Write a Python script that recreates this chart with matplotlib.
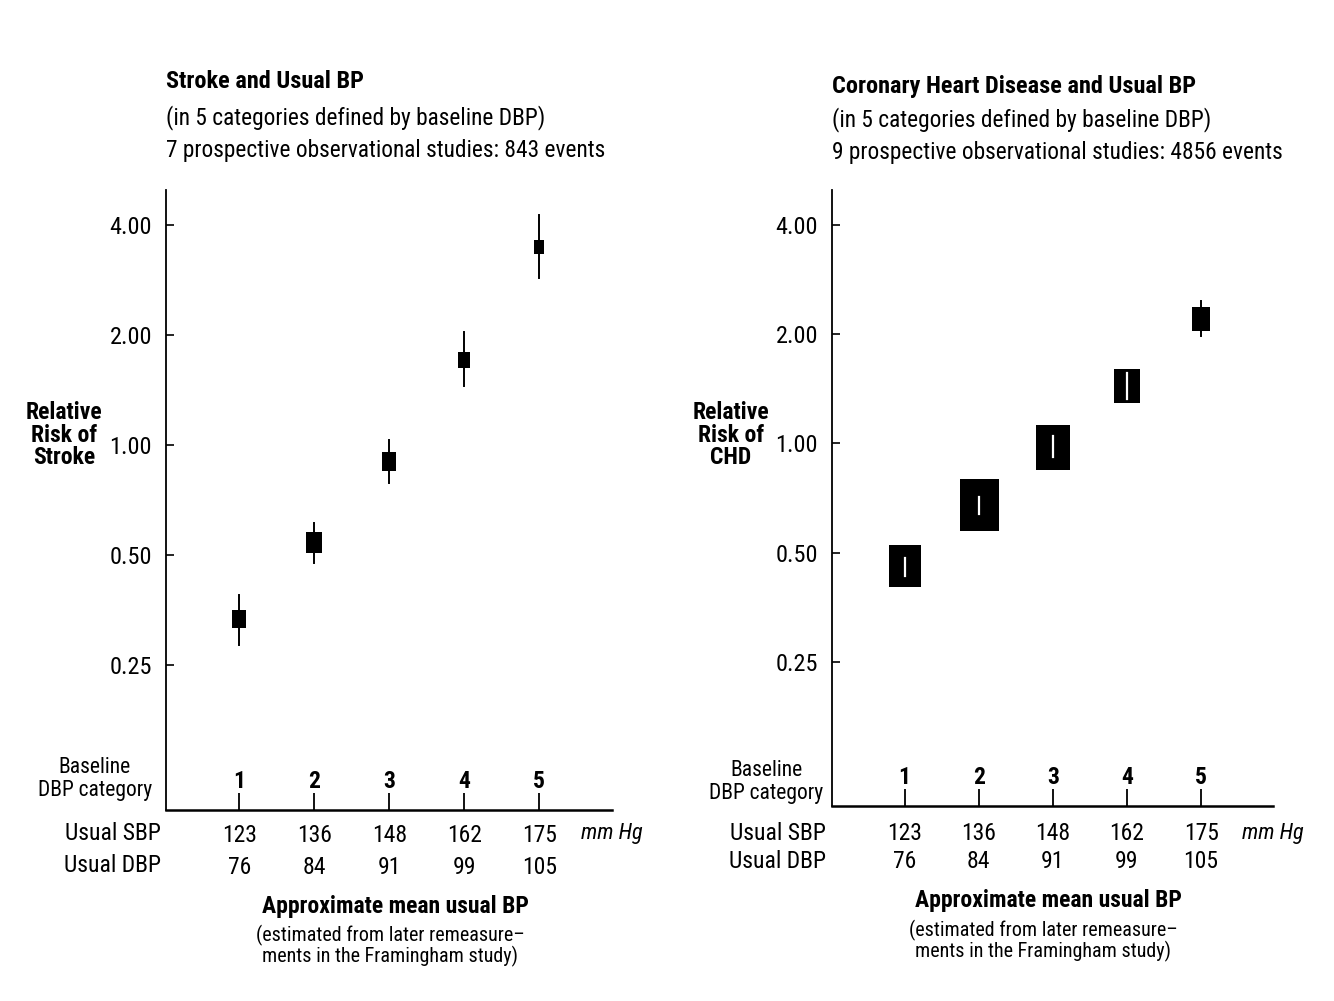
import matplotlib
matplotlib.use("Agg")
import matplotlib.pyplot as plt
from matplotlib import font_manager

# pick a narrow sans if there is one, the scan is set in condensed Helvetica
installed = {f.name for f in font_manager.fontManager.ttflist}
family = "DejaVu Sans"
for name in ["Liberation Sans Narrow", "Roboto Condensed", "DejaVu Sans Condensed", "Liberation Sans"]:
    if name in installed:
        family = name
        break
plt.rcParams["font.family"] = [family, "DejaVu Sans"]

categories = [1, 2, 3, 4, 5]
usual_sbp = [123, 136, 148, 162, 175]
usual_dbp = [76, 84, 91, 99, 105]

stroke_rr = [0.333, 0.541, 0.906, 1.71, 3.50]
stroke_lo = [0.283, 0.475, 0.788, 1.45, 2.87]
stroke_hi = [0.389, 0.612, 1.034, 2.04, 4.27]
stroke_box = [18, 21, 19, 15.5, 14]  # box height, px (weight of each category)

chd_rr = [0.459, 0.677, 0.980, 1.442, 2.20]
chd_lo = [0.431, 0.640, 0.920, 1.324, 1.98]
chd_hi = [0.483, 0.713, 1.048, 1.567, 2.47]
chd_box = [42, 52, 45, 33.5, 24]

yticks = [0.25, 0.5, 1.0, 2.0, 4.0]
ytick_labels = ["0.25", "0.50", "1.00", "2.00", "4.00"]

W, H = 1334, 1001
fig = plt.figure(figsize=(W / 100, H / 100), dpi=100)


def fx(x):
    return x / W


def fy(y):
    return 1 - y / H


box_marker = [(-0.75, -1), (0.75, -1), (0.75, 1), (-0.75, 1), (-0.75, -1)]


def panel(rect, rr, lo, hi, box, title, subtitle, study_line, ylab, ylab_x, txt):
    ax = fig.add_axes(rect)
    ax.set_yscale("log")
    ax.set_ylim(0.1, 5)
    ax.set_xlim(0.02, 5.97)
    ax.set_yticks(yticks)
    ax.set_yticklabels(ytick_labels)
    ax.minorticks_off()
    ax.set_xticks(categories)
    ax.set_xticklabels([])
    ax.tick_params(axis="y", direction="in", length=6, width=1.2, pad=10, labelsize=17.5)
    ax.tick_params(axis="x", direction="in", length=12, width=1.3)
    ax.spines["right"].set_visible(False)
    ax.spines["top"].set_visible(False)
    ax.spines["left"].set_linewidth(1.3)
    ax.spines["bottom"].set_linewidth(1.8)

    for i, c in enumerate(categories):
        half = box[i] / 2
        _, yc = ax.transData.transform((c, rr[i]))
        _, ylo = ax.transData.transform((c, lo[i]))
        _, yhi = ax.transData.transform((c, hi[i]))
        inside = (yc - ylo) < half - 1 and (yhi - yc) < half - 1
        if not inside:
            ax.plot([c, c], [lo[i], hi[i]], color="black", lw=1.4, zorder=2)
        ax.plot(c, rr[i], marker=box_marker, markersize=box[i] * 0.72,
                color="black", markeredgewidth=0, zorder=3)
        if inside:
            ax.plot([c, c], [lo[i], hi[i]], color="white", lw=1.6, zorder=4)

    # category numbers above the ticks
    for c in categories:
        ax.text(c, 0.027, str(c), transform=ax.get_xaxis_transform(),
                ha="center", va="bottom", fontsize=17, fontweight="bold")

    x0 = rect[0] * W
    fig.text(fx(x0), fy(txt["t1"]), title, fontsize=17.5, fontweight="bold", va="center")
    fig.text(fx(x0), fy(txt["t2"]), subtitle, fontsize=16.8, va="center")
    fig.text(fx(x0), fy(txt["t3"]), study_line, fontsize=16.8, va="center")

    fig.text(fx(ylab_x), fy(435), ylab, fontsize=17, fontweight="bold",
             ha="center", va="center", linespacing=0.95)
    fig.text(fx(txt["base_x"]), fy(txt["base_y"]), "Baseline\nDBP category",
             fontsize=15.5, ha="center", va="center", linespacing=1.15)

    fig.text(fx(txt["lab_x"]), fy(txt["sbp_y"]), "Usual SBP", fontsize=17, ha="right", va="center")
    fig.text(fx(txt["lab_x"]), fy(txt["dbp_y"]), "Usual DBP", fontsize=17, ha="right", va="center")
    for i, c in enumerate(categories):
        ax.text(c, -txt["sbp_off"], str(usual_sbp[i]), transform=ax.get_xaxis_transform(),
                ha="center", va="center", fontsize=17)
        ax.text(c, -txt["dbp_off"], str(usual_dbp[i]), transform=ax.get_xaxis_transform(),
                ha="center", va="center", fontsize=17)
    fig.text(fx(txt["mm_x"]), fy(txt["sbp_y"]), "mm Hg", fontsize=16, style="italic",
             ha="center", va="center")

    fig.text(fx(txt["app_x"]), fy(txt["app_y"]), "Approximate mean usual BP",
             fontsize=17, fontweight="bold", ha="center", va="center")
    fig.text(fx(txt["app_x"] - 5), fy(txt["est_y"]),
             "(estimated from later remeasure\u2013\nments in the Framingham study)",
             fontsize=14.5, ha="center", va="center", linespacing=0.95)
    return ax


left_txt = dict(t1=82, t2=118, t3=150, base_x=95, base_y=779, lab_x=161,
                sbp_y=834, dbp_y=866, sbp_off=0.041, dbp_off=0.093, mm_x=612,
                app_x=395, app_y=907, est_y=946)
right_txt = dict(t1=87, t2=120, t3=152, base_x=766, base_y=782, lab_x=826,
                 sbp_y=834, dbp_y=861, sbp_off=0.044, dbp_off=0.090, mm_x=1273,
                 app_x=1048, app_y=900, est_y=941)

panel([fx(166), fy(810), fx(612 - 166), (810 - 190) / H],
      stroke_rr, stroke_lo, stroke_hi, stroke_box,
      "Stroke and Usual BP", "(in 5 categories defined by baseline DBP)",
      "7 prospective observational studies: 843 events",
      "Relative\nRisk of\nStroke", 64, left_txt)

panel([fx(832), fy(806), fx(1273 - 832), (806 - 190) / H],
      chd_rr, chd_lo, chd_hi, chd_box,
      "Coronary Heart Disease and Usual BP", "(in 5 categories defined by baseline DBP)",
      "9 prospective observational studies: 4856 events",
      "Relative\nRisk of\nCHD", 731, right_txt)

fig.savefig("out.png", dpi=100)
